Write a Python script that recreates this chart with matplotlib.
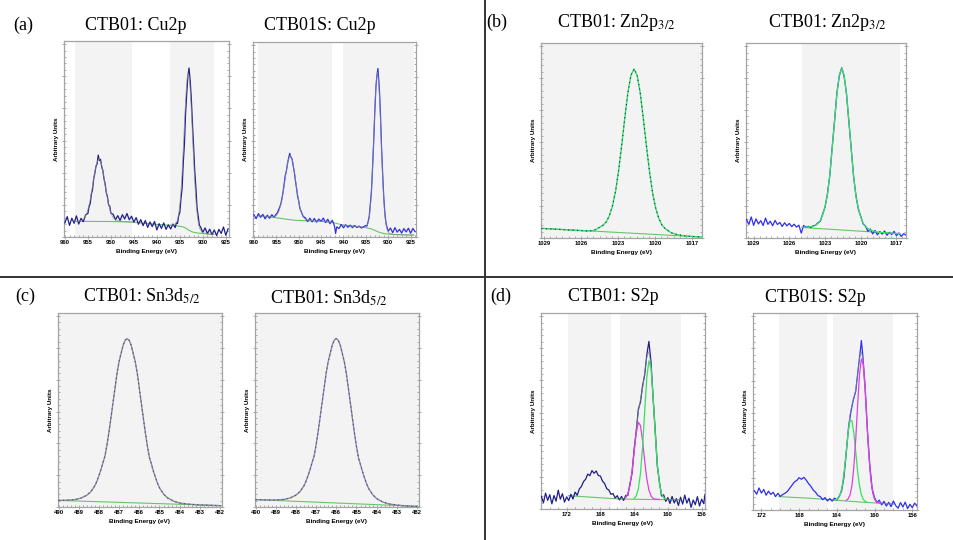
import matplotlib
matplotlib.use('Agg')
import matplotlib.pyplot as plt
from matplotlib.lines import Line2D
from matplotlib.ticker import MultipleLocator

plt.rcParams['mathtext.fontset'] = 'stix'

# ---------------- (a) Cu 2p ----------------
cu1_regions = [(957.8, 945.3), (937.1, 927.6)]
cu1_counts = [
    (960.0, 7.2), (959.5, 10.4), (959.0, 5.9), (958.5, 9.6), (958.0, 7.0), (957.5, 10.8),
    (957.0, 6.6), (956.5, 9.5), (956.0, 7.8), (955.5, 11.3), (955.0, 12.0), (954.75, 15.6),
    (954.5, 16.9), (954.25, 21.8), (954.0, 24.0), (953.75, 29.5), (953.5, 32.4), (953.25, 36.0),
    (953.0, 37.3), (952.75, 41.8), (952.5, 38.9), (952.25, 39.6), (952.0, 35.8), (951.75, 34.0),
    (951.5, 29.7), (951.25, 27.1), (951.0, 22.6), (950.75, 20.7), (950.5, 16.4), (950.25, 15.8),
    (950.0, 12.1), (949.5, 11.6), (949.0, 8.8), (948.5, 10.9), (948.0, 8.4), (947.5, 11.4),
    (947.0, 9.2), (946.5, 12.0), (946.0, 8.8), (945.5, 10.6), (945.0, 7.6), (944.5, 9.9),
    (944.0, 6.5), (943.5, 8.9), (943.0, 5.8), (942.5, 8.4), (942.0, 4.9), (941.5, 7.7),
    (941.0, 5.3), (940.5, 7.9), (940.0, 3.6), (939.5, 6.8), (939.0, 4.4), (938.5, 7.2),
    (938.0, 3.9), (937.5, 6.2), (937.0, 4.1), (936.5, 6.6), (936.0, 4.8), (935.75, 7.2),
    (935.5, 6.9), (935.25, 10.8), (935.0, 12.5), (934.75, 19.6), (934.5, 24.8), (934.25, 37.9),
    (934.0, 47.5), (933.75, 62.8), (933.5, 73.0), (933.25, 81.8), (933.0, 86.2), (932.75, 80.0),
    (932.5, 70.6), (932.25, 57.8), (932.0, 46.2), (931.75, 33.6), (931.5, 25.1), (931.25, 14.8),
    (931.0, 10.6), (930.75, 6.0), (930.5, 5.2), (930.0, 2.4), (929.5, 4.6), (929.0, 1.7),
    (928.5, 4.0), (928.0, 1.2), (927.5, 3.6), (927.0, 0.7), (926.5, 3.9), (926.0, 1.8),
    (925.5, 5.1), (925.0, 0.9), (924.5, 4.2),
]
cu1_fit_hi = [
    (957.8, 8.0), (957.0, 8.0), (956.6, 8.3), (956.1, 8.85), (955.6, 10.2), (955.1, 13.0),
    (954.6, 17.8), (954.1, 24.4), (953.6, 31.8), (953.1, 37.7), (952.6, 40.0), (952.1, 37.7),
    (951.6, 31.8), (951.1, 24.4), (950.6, 17.8), (950.1, 13.0), (949.6, 10.2), (949.1, 8.85),
    (948.6, 8.3), (947.5, 8.0), (945.3, 7.6),
]
cu1_fit_lo = [
    (937.1, 6.0), (936.15, 6.2), (935.65, 7.8), (935.4, 9.8), (935.15, 13.4), (934.9, 19.0),
    (934.65, 27.0), (934.4, 37.4), (934.15, 49.8), (933.9, 62.4), (933.65, 73.5), (933.4, 81.1),
    (933.15, 83.5), (932.9, 80.4), (932.65, 72.1), (932.4, 60.5), (932.15, 47.4), (931.9, 34.8),
    (931.65, 24.1), (931.4, 15.8), (931.15, 10.0), (930.9, 6.35), (930.65, 4.2), (930.15, 2.3),
    (929.0, 1.6), (927.6, 1.3),
]
cu1_bg = [
    (957.8, 8.0), (950.0, 7.9), (945.3, 7.6), (940.0, 6.4), (937.1, 6.0), (936.0, 5.8),
    (934.5, 5.3), (934.0, 4.9), (933.5, 4.2), (933.0, 3.4), (932.5, 2.8), (932.0, 2.4),
    (931.0, 2.0), (930.0, 1.8), (928.5, 1.4), (927.6, 1.3),
]

cu2_regions = [(959.0, 942.6), (940.1, 924.3)]
cu2_counts = [
    (960.0, 11.5), (959.5, 9.4), (959.0, 12.0), (958.5, 10.1), (958.0, 11.6), (957.5, 9.3),
    (957.0, 11.2), (956.5, 9.6), (956.0, 11.4), (955.5, 10.2), (955.0, 11.8), (954.75, 12.4),
    (954.5, 13.9), (954.25, 15.2), (954.0, 16.8), (953.75, 19.6), (953.5, 22.9), (953.25, 27.0),
    (953.0, 31.5), (952.75, 33.8), (952.5, 37.6), (952.25, 40.4), (952.0, 42.9), (951.75, 41.0),
    (951.5, 40.2), (951.25, 36.9), (951.0, 33.7), (950.75, 29.2), (950.5, 25.4), (950.25, 21.0),
    (950.0, 18.6), (949.75, 14.9), (949.5, 13.4), (949.0, 10.6), (948.5, 9.8), (948.0, 7.9),
    (947.5, 9.6), (947.0, 7.8), (946.5, 9.5), (946.0, 7.6), (945.5, 9.2), (945.0, 8.0),
    (944.5, 9.7), (944.0, 7.4), (943.5, 9.1), (943.0, 6.8), (942.5, 8.6), (942.0, 5.6),
    (941.75, 1.8), (941.5, 5.2), (941.0, 4.3), (940.5, 6.4), (940.0, 4.7), (939.5, 6.3),
    (939.0, 5.0), (938.5, 6.1), (938.0, 4.8), (937.5, 5.9), (937.0, 4.9), (936.5, 5.6),
    (936.0, 4.6), (935.5, 5.3), (935.0, 5.9), (934.75, 5.6), (934.5, 7.8), (934.25, 10.5),
    (934.0, 16.9), (933.75, 23.4), (933.5, 35.6), (933.25, 48.8), (933.0, 64.2), (932.75, 77.0),
    (932.5, 83.4), (932.3, 86.4), (932.0, 76.8), (931.75, 64.0), (931.5, 46.2), (931.25, 32.6),
    (931.0, 20.5), (930.75, 12.2), (930.5, 7.1), (930.25, 4.8), (930.0, 3.0), (929.5, 4.6),
    (929.0, 2.2), (928.5, 4.8), (928.0, 2.5), (927.5, 3.9), (927.0, 2.0), (926.5, 4.3),
    (926.0, 2.6), (925.5, 4.5), (925.0, 1.9), (924.5, 4.4), (924.0, 2.7),
]
cu2_fit_hi = [
    (959.0, 10.9), (956.0, 10.2), (955.37, 10.4), (954.87, 11.25), (954.37, 13.4), (953.87, 17.7),
    (953.37, 24.4), (952.87, 32.4), (952.37, 39.3), (951.87, 41.9), (951.37, 39.1), (950.87, 32.0),
    (950.37, 23.7), (949.87, 16.7), (949.37, 12.2), (948.87, 9.85), (948.37, 8.8), (946.0, 8.1),
    (942.6, 7.6),
]
cu2_fit_lo = [
    (940.1, 6.1), (937.0, 5.4), (935.4, 5.0), (934.9, 5.4), (934.65, 6.2), (934.4, 8.0),
    (934.15, 11.7), (933.9, 18.1), (933.65, 28.0), (933.4, 41.1), (933.15, 56.2), (932.9, 70.5),
    (932.65, 80.8), (932.4, 84.5), (932.15, 80.4), (931.9, 69.6), (931.65, 54.9), (931.4, 39.5),
    (931.15, 26.0), (930.9, 15.8), (930.65, 9.15), (930.4, 5.2), (930.15, 3.15), (929.9, 2.1),
    (929.0, 1.3), (926.0, 1.05), (924.3, 1.0),
]
cu2_bg = [
    (959.0, 10.9), (956.0, 10.2), (953.0, 9.2), (951.0, 8.6), (948.0, 8.3), (945.0, 8.0),
    (942.6, 7.6), (940.1, 6.1), (938.0, 5.6), (935.0, 4.8), (934.0, 4.3), (933.0, 3.4),
    (932.0, 2.4), (931.0, 1.8), (930.0, 1.5), (928.0, 1.2), (925.0, 1.0), (924.3, 1.0),
]

# ---------------- (b) Zn 2p3/2 ----------------
zn1_regions = [(1029.24, 1016.2)]
zn1_counts = [
    (1029.2, 4.9), (1028.5, 4.65), (1027.5, 4.3), (1026.5, 3.95), (1025.5, 3.6), (1025.0, 3.8),
    (1024.7, 4.7), (1024.2, 6.6), (1023.95, 8.3), (1023.7, 11.5), (1023.45, 16.5), (1023.2, 24.0),
    (1022.95, 34.8), (1022.7, 47.8), (1022.45, 61.7), (1022.2, 74.7), (1021.95, 83.5), (1021.7, 86.7),
    (1021.45, 83.3), (1021.2, 74.3), (1020.95, 61.1), (1020.7, 47.2), (1020.45, 34.0), (1020.2, 23.0),
    (1019.95, 15.3), (1019.7, 10.1), (1019.45, 6.7), (1019.2, 4.9), (1018.7, 2.7), (1018.2, 1.7),
    (1017.5, 1.0), (1016.8, 0.7), (1016.2, 0.5),
]
zn1_bg = [(1029.24, 5.0), (1016.2, 0.5)]

zn2_regions = [(1024.95, 1016.7)]
zn2_counts = [
    (1029.6, 9.5), (1029.4, 7.0), (1029.2, 10.8), (1029.0, 6.5), (1028.8, 9.8), (1028.6, 7.2),
    (1028.4, 8.9), (1028.2, 6.4), (1028.0, 10.2), (1027.8, 7.0), (1027.6, 8.6), (1027.4, 6.3),
    (1027.2, 9.0), (1027.0, 6.9), (1026.8, 8.0), (1026.6, 5.9), (1026.4, 7.8), (1026.2, 6.2),
    (1026.0, 7.5), (1025.8, 5.8), (1025.6, 7.1), (1025.4, 5.6), (1025.2, 6.6), (1025.0, 2.5),
    (1024.8, 6.4), (1024.6, 5.5), (1024.4, 6.0), (1024.2, 5.3), (1024.0, 6.3), (1023.8, 6.5),
    (1023.6, 7.8), (1023.4, 8.6), (1023.2, 12.3), (1023.0, 15.8), (1022.8, 22.6), (1022.6, 32.0),
    (1022.4, 46.5), (1022.2, 60.0), (1022.0, 74.6), (1021.8, 83.2), (1021.6, 87.3), (1021.4, 83.0),
    (1021.2, 74.2), (1021.0, 59.6), (1020.8, 45.8), (1020.6, 31.3), (1020.4, 21.6), (1020.2, 14.7),
    (1020.0, 11.1), (1019.8, 7.2), (1019.6, 6.1), (1019.4, 3.4), (1019.2, 4.6), (1019.0, 2.1),
    (1018.8, 3.9), (1018.6, 1.6), (1018.4, 3.3), (1018.2, 2.0), (1018.0, 3.6), (1017.8, 1.4),
    (1017.6, 2.9), (1017.4, 1.8), (1017.2, 3.4), (1017.0, 1.2), (1016.8, 2.6), (1016.6, 0.8),
    (1016.4, 2.2), (1016.2, 1.5),
]
zn2_fit = [
    (1024.95, 5.4), (1024.0, 5.9), (1023.6, 7.4), (1023.4, 9.0), (1023.2, 11.8), (1023.0, 16.2),
    (1022.8, 22.1), (1022.6, 32.6), (1022.4, 45.9), (1022.2, 60.6), (1022.0, 74.1), (1021.8, 83.7),
    (1021.6, 87.1), (1021.4, 83.5), (1021.2, 73.7), (1021.0, 60.2), (1020.8, 45.3), (1020.6, 31.8),
    (1020.4, 21.1), (1020.2, 15.2), (1020.0, 10.6), (1019.8, 7.6), (1019.6, 5.8), (1019.2, 4.0),
    (1018.5, 2.9), (1017.5, 2.5), (1016.7, 2.2),
]
zn2_bg = [(1024.95, 5.4), (1016.7, 2.2)]

# ---------------- (c) Sn 3d5/2 ----------------
sn1_regions = [(490.03, 481.9)]
sn1_counts = [
    (490.0, 3.4), (489.6, 3.5), (489.2, 3.8), (488.9, 4.55), (488.6, 6.06), (488.4, 7.93),
    (488.2, 11.0), (488.1, 13.3), (488.0, 16.2), (487.9, 19.3), (487.8, 22.9), (487.7, 26.3),
    (487.6, 32.2), (487.5, 38.9), (487.4, 46.4), (487.3, 54.0), (487.2, 61.6), (487.1, 69.2),
    (487.0, 75.1), (486.9, 79.3), (486.8, 83.4), (486.7, 86.0), (486.6, 86.8), (486.5, 85.9),
    (486.4, 83.3), (486.3, 79.1), (486.2, 74.8), (486.1, 68.9), (486.0, 61.2), (485.9, 53.5),
    (485.8, 45.9), (485.7, 38.3), (485.6, 31.5), (485.5, 25.6), (485.4, 22.2), (485.3, 18.4),
    (485.2, 15.3), (485.1, 12.3), (485.0, 9.9), (484.8, 6.7), (484.6, 4.7), (484.3, 3.0),
    (484.0, 2.06), (483.6, 1.5), (483.0, 1.04), (482.5, 0.87), (482.0, 0.7),
]
sn1_bg = [(490.03, 3.4), (481.9, 0.7)]

sn2_regions = [(490.03, 481.9)]
sn2_counts = [
    (490.0, 3.8), (489.4, 3.6), (489.0, 3.6), (488.6, 3.9), (488.3, 4.6), (488.0, 6.1),
    (487.8, 7.9), (487.6, 11.0), (487.5, 13.3), (487.4, 16.2), (487.3, 19.3), (487.2, 22.9),
    (487.1, 26.3), (487.0, 32.1), (486.9, 38.9), (486.8, 46.4), (486.7, 54.1), (486.6, 61.6),
    (486.5, 69.2), (486.4, 75.0), (486.3, 79.3), (486.2, 83.5), (486.1, 86.0), (486.0, 86.8),
    (485.9, 85.9), (485.8, 83.3), (485.7, 79.0), (485.6, 74.7), (485.5, 68.7), (485.4, 61.1),
    (485.3, 53.5), (485.2, 45.7), (485.1, 38.1), (485.0, 31.2), (484.9, 25.3), (484.8, 21.8),
    (484.7, 18.2), (484.6, 15.0), (484.5, 12.0), (484.4, 9.6), (484.2, 6.4), (484.0, 4.3),
    (483.7, 2.6), (483.4, 1.6), (483.0, 1.0), (482.5, 0.52), (482.0, 0.3),
]
sn2_bg = [(490.03, 3.8), (481.9, 0.3)]

# ---------------- (d) S 2p ----------------
s1_regions = [(171.8, 166.8), (165.7, 158.5)]
s1_counts = [
    (175.0, 6.5), (174.75, 3.2), (174.5, 8.1), (174.25, 4.4), (174.0, 7.3), (173.75, 2.6),
    (173.5, 6.9), (173.25, 4.0), (173.0, 9.6), (172.75, 5.0), (172.5, 7.8), (172.25, 3.5),
    (172.0, 6.2), (171.75, 4.3), (171.5, 7.5), (171.25, 5.1), (171.0, 8.6), (170.75, 7.0),
    (170.5, 10.2), (170.25, 11.5), (170.0, 14.0), (169.75, 15.2), (169.5, 17.8), (169.25, 17.0),
    (169.0, 19.6), (168.75, 18.2), (168.5, 19.4), (168.25, 17.1), (168.0, 16.8), (167.75, 14.2),
    (167.5, 13.0), (167.25, 10.4), (167.0, 9.7), (166.75, 7.5), (166.5, 7.9), (166.25, 5.6),
    (166.0, 6.8), (165.75, 4.6), (165.5, 6.4), (165.25, 4.4), (165.0, 6.9), (164.75, 6.9),
    (164.5, 12.8), (164.25, 18.1), (164.0, 30.6), (163.75, 39.8), (163.5, 50.9), (163.25, 54.6),
    (163.0, 62.8), (162.75, 68.4), (162.5, 78.6), (162.25, 85.5), (162.0, 75.0), (161.75, 56.4),
    (161.5, 39.9), (161.25, 21.7), (161.0, 13.9), (160.75, 6.6), (160.5, 7.2), (160.25, 3.9),
    (160.0, 5.8), (159.75, 2.8), (159.5, 6.4), (159.25, 3.1), (159.0, 5.3), (158.75, 1.8),
    (158.5, 6.0), (158.25, 2.5), (158.0, 7.1), (157.75, 3.0), (157.5, 5.5), (157.25, 0.8),
    (157.0, 4.6), (156.75, 2.2), (156.5, 6.3), (156.25, 1.5), (156.0, 5.0), (155.75, 2.7),
    (155.6, 7.5),
]
s1_fit = [
    (165.7, 5.1), (165.25, 5.3), (165.0, 5.9), (164.75, 7.8), (164.5, 11.9), (164.25, 19.2),
    (164.0, 29.5), (163.75, 40.6), (163.5, 49.6), (163.25, 55.9), (163.0, 61.6), (162.75, 69.3),
    (162.5, 77.4), (162.25, 80.4), (162.0, 73.5), (161.75, 57.6), (161.5, 38.6), (161.25, 22.9),
    (161.0, 12.8), (160.75, 7.7), (160.5, 5.7), (160.0, 4.8), (159.0, 4.75), (158.5, 4.7),
]
s1_green = [
    (164.0, 5.4), (163.75, 6.7), (163.5, 10.3), (163.25, 18.2), (163.0, 31.7), (162.75, 49.7),
    (162.5, 66.8), (162.25, 75.6), (162.0, 71.7), (161.75, 57.1), (161.5, 38.6), (161.25, 22.9),
    (161.0, 12.8), (160.75, 7.8), (160.5, 5.8), (160.25, 5.0),
]
s1_magenta = [
    (165.0, 5.8), (164.75, 7.7), (164.5, 11.8), (164.25, 19.1), (164.0, 29.0), (163.75, 38.8),
    (163.5, 44.2), (163.25, 42.6), (163.0, 34.8), (162.75, 24.5), (162.5, 15.5), (162.25, 9.7),
    (162.0, 6.7), (161.75, 5.4), (161.5, 5.0), (161.0, 4.9),
]
s1_bg = [(171.8, 6.8), (169.0, 6.0), (166.8, 5.4), (165.7, 5.1), (163.0, 4.9), (160.0, 4.75), (158.5, 4.7)]

s2_regions = [(170.15, 165.0), (164.4, 158.0)]
s2_counts = [
    (172.75, 9.8), (172.5, 8.0), (172.25, 11.2), (172.0, 8.6), (171.75, 10.4), (171.5, 7.5),
    (171.25, 9.6), (171.0, 7.9), (170.75, 9.0), (170.5, 6.8), (170.25, 8.5), (170.0, 6.9),
    (169.75, 7.8), (169.5, 8.5), (169.25, 9.4), (169.0, 11.0), (168.75, 12.6), (168.5, 14.2),
    (168.25, 15.0), (168.0, 16.4), (167.75, 15.6), (167.5, 16.6), (167.25, 15.2), (167.0, 13.4),
    (166.75, 12.0), (166.5, 10.1), (166.25, 9.0), (166.0, 7.3), (165.75, 6.8), (165.5, 5.2),
    (165.25, 6.3), (165.0, 4.6), (164.75, 5.8), (164.5, 4.5), (164.25, 6.0), (164.0, 5.1),
    (163.75, 7.0), (163.5, 9.6), (163.25, 16.5), (163.0, 29.0), (162.75, 42.4), (162.5, 50.1),
    (162.25, 56.0), (162.0, 60.2), (161.75, 71.0), (161.5, 81.3), (161.4, 86.0), (161.25, 78.6),
    (161.0, 62.5), (160.75, 39.8), (160.5, 22.5), (160.25, 10.7), (160.0, 6.2), (159.75, 3.8),
    (159.5, 5.0), (159.25, 2.6), (159.0, 4.4), (158.75, 2.0), (158.5, 3.9), (158.25, 1.7),
    (158.0, 4.6), (157.75, 2.2), (157.5, 0.9), (157.25, 3.8), (157.0, 1.5), (156.75, 4.0),
    (156.5, 0.7), (156.25, 2.9), (156.0, 1.2), (155.75, 3.5), (155.5, 2.0),
]
s2_fit = [
    (164.4, 5.1), (164.2, 5.1), (164.0, 5.4), (163.8, 6.3), (163.6, 8.5), (163.4, 13.0),
    (163.2, 20.3), (163.0, 30.2), (162.8, 40.5), (162.6, 48.6), (162.4, 53.3), (162.2, 56.4),
    (162.0, 61.0), (161.8, 68.5), (161.6, 76.9), (161.4, 80.4), (161.2, 75.2), (161.0, 61.6),
    (160.8, 43.8), (160.6, 27.5), (160.4, 15.7), (160.2, 8.8), (160.0, 5.5), (159.8, 4.1),
    (159.0, 3.3), (158.0, 3.0),
]
s2_magenta = [
    (163.0, 4.9), (162.8, 5.7), (162.6, 7.7), (162.4, 12.4), (162.2, 21.6), (162.0, 35.7),
    (161.8, 52.9), (161.6, 68.6), (161.4, 76.7), (161.2, 73.8), (161.0, 61.1), (160.8, 43.7),
    (160.6, 27.5), (160.4, 15.7), (160.2, 8.8), (160.0, 5.5), (159.8, 4.1), (159.4, 3.4),
]
s2_green = [
    (164.2, 5.1), (164.0, 5.4), (163.8, 6.3), (163.6, 8.5), (163.4, 13.0), (163.2, 20.3),
    (163.0, 29.9), (162.8, 39.4), (162.6, 45.4), (162.4, 45.3), (162.2, 39.2), (162.0, 29.6),
    (161.8, 19.8), (161.6, 12.5), (161.4, 7.8), (161.2, 5.4), (161.0, 4.4), (160.8, 3.9),
]
s2_bg = [(170.15, 6.8), (167.0, 6.0), (164.4, 5.1), (162.5, 4.4), (161.35, 4.0), (160.0, 3.6), (158.0, 3.0)]

# ---------------- styling ----------------
NAVY = '#1f1f8c'
BLUE = '#2e2ef2'
GRAY = '#8c8c8c'
BG_GREEN = '#62c862'
COMP_GREEN = '#36e060'
MAGENTA = '#e040e0'
BAND = '#f3f3f3'
SANS = 'Liberation Sans'

W, H = 954, 540
fig = plt.figure(figsize=(W / 100, H / 100), dpi=100)


def rect(left, top, right, bottom):
    # pixel box -> figure fraction
    return [left / W, 1 - bottom / H, (right - left) / W, (bottom - top) / H]


def xy(pairs):
    return [p[0] for p in pairs], [p[1] for p in pairs]


def panel(box, xlim, regions, major, minor, counts, data_color,
          fits=(), fit_color=GRAY, bg=None, comps=(), smooth=False):
    ax = fig.add_axes(rect(*box))
    for hi, lo in regions:
        ax.axvspan(lo, hi, color=BAND, lw=0, zorder=0)
    if bg is not None:
        ax.plot(*xy(bg), color=BG_GREEN, lw=0.8, zorder=2)
    ex, ey = xy(counts)
    if smooth:
        ax.plot(ex, ey, color=fit_color, lw=1.0, zorder=3)
        ax.plot(ex, ey, color=data_color, lw=0.8, ls=(0, (1, 3)), zorder=4)
    else:
        ax.plot(ex, ey, color=data_color, lw=0.9, zorder=3)
    for f in fits:
        ax.plot(*xy(f), color=fit_color, lw=0.6, alpha=0.8, zorder=4)
    for c, col in comps:
        ax.plot(*xy(c), color=col, lw=0.9, zorder=5)

    ax.set_xlim(xlim)
    ax.set_ylim(0, 100)
    ax.xaxis.set_major_locator(MultipleLocator(major))
    ax.xaxis.set_minor_locator(MultipleLocator(minor))
    ax.yaxis.set_major_locator(MultipleLocator(16.4))
    ax.yaxis.set_minor_locator(MultipleLocator(16.4 / 5))
    ax.tick_params(axis='y', which='both', left=True, right=True, labelleft=False,
                   color='#8a8a8a', width=0.5)
    ax.tick_params(axis='y', which='major', direction='inout', length=3)
    ax.tick_params(axis='y', which='minor', direction='in', length=1.5)
    ax.tick_params(axis='x', which='major', direction='inout', length=3, width=0.5,
                   color='#8a8a8a', pad=1)
    ax.tick_params(axis='x', which='minor', direction='in', length=1.5, width=0.5,
                   color='#8a8a8a')
    for lab in ax.get_xticklabels():
        lab.set_fontfamily(SANS)
        lab.set_fontweight('bold')
        lab.set_fontsize(4.2)
    for sp in ax.spines.values():
        sp.set_color('#a5a5a5')
        sp.set_linewidth(0.9)
    ax.set_xlabel('Binding Energy (eV)', fontsize=4.6, fontweight='bold',
                  family=SANS, labelpad=2.5)
    ax.set_ylabel('Arbitrary Units', fontsize=4.5, fontweight='bold',
                  family=SANS, labelpad=2)
    return ax


panel((64, 41, 229, 237), (960.2, 924.3), cu1_regions, 5, 1, cu1_counts, NAVY,
      fits=(cu1_fit_hi, cu1_fit_lo), bg=cu1_bg)
panel((253, 42, 416, 237), (960.2, 923.8), cu2_regions, 5, 1, cu2_counts, BLUE,
      fits=(cu2_fit_hi, cu2_fit_lo), bg=cu2_bg)
panel((541, 43, 702, 238), (1029.24, 1016.2), zn1_regions, 3, 0.5, zn1_counts, NAVY,
      fit_color=COMP_GREEN, bg=zn1_bg, smooth=True)
panel((746, 43, 906, 238), (1029.64, 1016.2), zn2_regions, 3, 0.5, zn2_counts, BLUE,
      comps=((zn2_fit, COMP_GREEN),), bg=zn2_bg)
panel((58, 313, 222, 507), (490.03, 481.9), sn1_regions, 1, 0.2, sn1_counts, '#4040b0',
      bg=sn1_bg, smooth=True)
panel((255, 313, 419, 507), (490.03, 481.9), sn2_regions, 1, 0.2, sn2_counts, '#3c3ce0',
      bg=sn2_bg, smooth=True)
panel((541, 313, 705, 509), (175.04, 155.6), s1_regions, 4, 1, s1_counts, NAVY,
      fits=(s1_fit,), bg=s1_bg, comps=((s1_magenta, MAGENTA), (s1_green, COMP_GREEN)))
panel((753, 313, 917, 510), (172.89, 155.5), s2_regions, 4, 1, s2_counts, BLUE,
      fits=(s2_fit,), bg=s2_bg, comps=((s2_green, COMP_GREEN), (s2_magenta, MAGENTA)))

# titles and panel letters (pixel positions, baseline)
SERIF = 'Liberation Serif'
titles = [
    (136, 29.5, 'CTB01: Cu2p'),
    (320, 30, 'CTB01S: Cu2p'),
    (616, 27, r'CTB01: Zn2p$_{3/2}$'),
    (827, 27, r'CTB01: Zn2p$_{3/2}$'),
    (142, 302, r'CTB01: Sn3d$_{5/2}$'),
    (329, 304, r'CTB01: Sn3d$_{5/2}$'),
    (613, 301, 'CTB01: S2p'),
    (815, 302, 'CTB01S: S2p'),
]
for x, y, t in titles:
    fig.text(x / W, 1 - y / H, t, ha='center', va='baseline', fontsize=13, family=SERIF)
for x, y, t in [(23, 29.5, '(a)'), (497, 27, '(b)'), (25, 301, '(c)'), (501, 301, '(d)')]:
    fig.text(x / W, 1 - y / H, t, ha='center', va='baseline', fontsize=13, family=SERIF)

# quadrant dividers
fig.add_artist(Line2D([485 / W, 485 / W], [0, 1], color='#333333', lw=1.4))
fig.add_artist(Line2D([0, 1], [1 - 276.5 / H, 1 - 276.5 / H], color='#333333', lw=1.4))

fig.savefig('out.png', dpi=100)
